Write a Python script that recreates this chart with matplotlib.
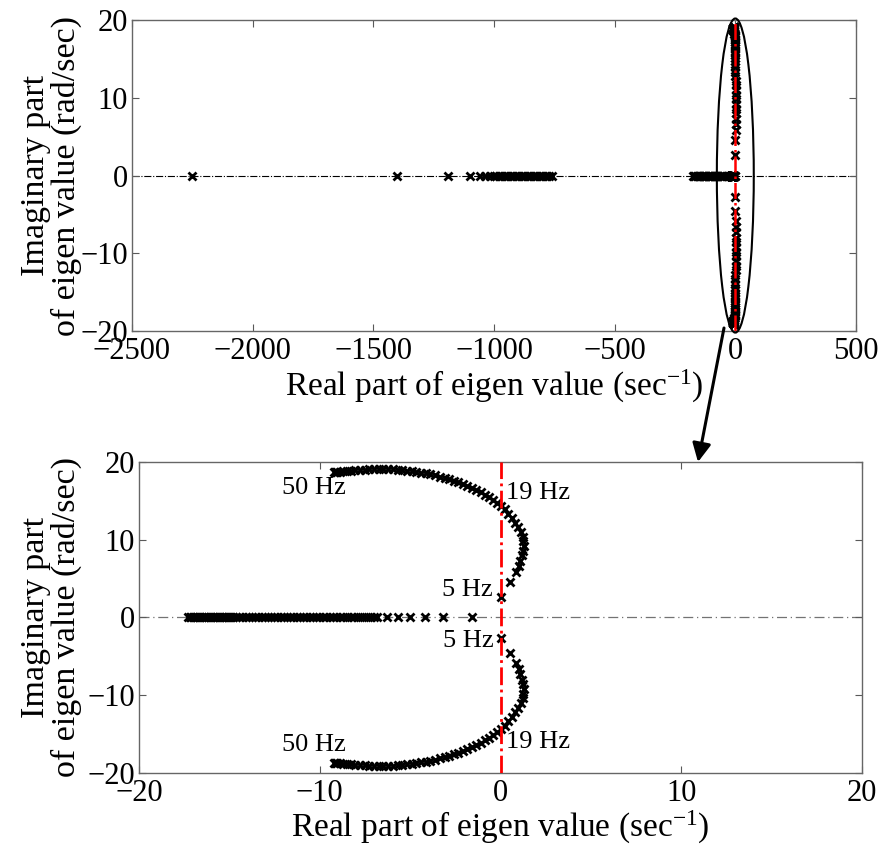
import matplotlib
matplotlib.use('Agg')
import matplotlib.pyplot as plt
from matplotlib.patches import Ellipse

plt.rcParams['font.family'] = ['Liberation Serif', 'DejaVu Serif']
plt.rcParams['mathtext.fontset'] = 'custom'
plt.rcParams['mathtext.rm'] = 'Liberation Serif'
plt.rcParams['mathtext.it'] = 'Liberation Serif:italic'

# ---------------- data ----------------
# far-left real eigenvalues (top plot only)
far_real = [-2250, -1400, -1190, -1100, -1057, -1037, -1016,
            -1000, -990, -980, -970, -960, -950, -940, -930, -920, -910,
            -900, -890, -880, -870, -860, -850, -840, -830, -820, -810,
            -800, -790, -780, -770, -760]
mid_real = [-175, -170, -165, -160, -155, -150, -145, -140, -135, -130,
            -125, -120, -115, -110, -105, -100, -95, -90, -85, -80,
            -75, -70, -65, -60, -55, -50, -45, -29]
# real eigenvalues near origin (zoomed plot)
near_real = [-17.30, -17.20, -17.10, -17.00, -16.90, -16.80, -16.70, -16.60,
             -16.50, -16.40, -16.30, -16.20, -16.10, -16.00, -15.90, -15.80,
             -15.70, -15.60, -15.50, -15.40, -15.30, -15.20, -15.10, -15.00,
             -14.90, -14.80, -14.62, -14.45, -14.28, -14.10, -13.92, -13.75,
             -13.57, -13.40, -13.22, -13.05, -12.87, -12.70, -12.52, -12.35,
             -12.17, -12.00, -11.82, -11.64, -11.46, -11.28, -11.10, -10.92,
             -10.74, -10.56, -10.38, -10.20, -10.02, -9.84, -9.65, -9.46,
             -9.27, -9.08, -8.89, -8.70, -8.50, -8.30, -8.10, -7.90,
             -7.68, -7.46, -7.23, -7.00, -6.85, -6.30, -5.67, -5.00,
             -4.18, -3.18, -1.60]
# complex branch, positive imaginary part (5 Hz -> 50 Hz)
upper_re = [0.00, 0.55, 0.85, 1.00, 1.10, 1.20, 1.25, 1.28, 1.27, 1.22,
            1.12, 0.98, 0.82, 0.63, 0.43, 0.22, 0.00, -0.20, -0.42, -0.64,
            -0.87, -1.10, -1.34, -1.58, -1.83, -2.08, -2.33, -2.58, -2.84,
            -3.10, -3.36, -3.62, -3.88, -4.14, -4.40, -4.66, -4.92, -5.18,
            -5.44, -5.70, -5.96, -6.22, -6.48, -6.74, -7.00, -7.26, -7.52,
            -7.78, -8.04, -8.28, -8.50, -8.70, -8.88, -9.02, -9.12, -9.18,
            -9.22]
upper_im = [2.70, 4.60, 5.80, 6.60, 7.30, 8.00, 8.60, 9.20, 9.80, 10.40,
            11.00, 11.60, 12.20, 12.80, 13.35, 13.90, 14.40, 14.78, 15.12,
            15.45, 15.78, 16.08, 16.37, 16.64, 16.90, 17.14, 17.37, 17.58,
            17.77, 17.95, 18.12, 18.27, 18.41, 18.53, 18.64, 18.74, 18.83,
            18.90, 18.96, 19.01, 19.04, 19.06, 19.07, 19.07, 19.06, 19.04,
            19.01, 18.97, 18.93, 18.88, 18.84, 18.80, 18.76, 18.73, 18.70,
            18.68, 18.66]
# complex branch, negative imaginary part (5 Hz -> 50 Hz)
lower_re = [0.00, 0.55, 0.85, 1.00, 1.10, 1.20, 1.25, 1.28, 1.27, 1.22,
            1.12, 0.98, 0.82, 0.63, 0.43, 0.22, 0.00, -0.20, -0.42, -0.64,
            -0.87, -1.10, -1.34, -1.58, -1.83, -2.08, -2.33, -2.58, -2.84,
            -3.10, -3.36, -3.62, -3.88, -4.14, -4.40, -4.66, -4.92, -5.18,
            -5.44, -5.70, -5.96, -6.22, -6.48, -6.74, -7.00, -7.26, -7.52,
            -7.78, -8.04, -8.28, -8.50, -8.70, -8.88, -9.02, -9.12, -9.18,
            -9.22]
lower_im = [-2.70, -4.60, -5.80, -6.60, -7.30, -8.00, -8.60, -9.20, -9.80,
            -10.40, -11.00, -11.60, -12.20, -12.80, -13.35, -13.90, -14.40,
            -14.78, -15.12, -15.45, -15.78, -16.08, -16.37, -16.64, -16.90,
            -17.14, -17.37, -17.58, -17.77, -17.95, -18.12, -18.27, -18.41,
            -18.53, -18.64, -18.74, -18.83, -18.90, -18.96, -19.01, -19.04,
            -19.06, -19.07, -19.07, -19.06, -19.04, -19.01, -18.97, -18.93,
            -18.88, -18.84, -18.80, -18.76, -18.73, -18.70, -18.68, -18.66]

top_xticks = [-2500, -2000, -1500, -1000, -500, 0, 500]
top_yticks = [-20, -10, 0, 10, 20]
bot_xticks = [-20, -10, 0, 10, 20]
bot_yticks = [-20, -10, 0, 10, 20]

labels_text = ['50 Hz', '19 Hz', '5 Hz', '5 Hz', '50 Hz', '19 Hz']
labels_x = [-12.1, 0.3, -0.45, -0.4, -12.1, 0.3]
labels_y = [16.7, 16.0, 3.5, -3.0, -16.4, -16.0]
labels_ha = ['left', 'left', 'right', 'right', 'left', 'left']

xlabel = r'Real part of eigen value (sec$^{-1}$)'
ylabel = 'Imaginary part\nof eigen value (rad/sec)'

# ---------------- figure ----------------
fig = plt.figure(figsize=(8.81, 8.46), dpi=100)
ax1 = fig.add_axes([0.1498, 0.6087, 0.8218, 0.3676])
ax2 = fig.add_axes([0.1578, 0.0863, 0.8207, 0.3676])

mk = dict(linestyle='none', marker='x', color='k', markersize=5.5,
          markeredgewidth=2.0, zorder=3)

def style(ax):
    ax.tick_params(direction='in', top=True, right=True, length=5,
                   width=0.8, colors='0.35', labelcolor='k',
                   labelsize=22)
    ax.tick_params(axis='x', pad=4)
    ax.tick_params(axis='y', pad=3)
    for s in ax.spines.values():
        s.set_color('0.4')
        s.set_linewidth(1.0)

# top plot
ax1.axhline(0, color='k', linestyle='-.', linewidth=0.8, zorder=1)
ax1.plot(far_real, [0] * len(far_real), **mk)
ax1.plot(mid_real, [0] * len(mid_real), **mk)
ax1.plot(near_real, [0] * len(near_real), **mk)
ax1.plot(upper_re, upper_im, **mk)
ax1.plot(lower_re, lower_im, **mk)
ax1.axvline(0, color='red', linestyle='-.', linewidth=1.8, zorder=4)
ax1.add_patch(Ellipse((0, 0), 153, 40.4, fill=False, edgecolor='k',
                      linewidth=1.5, clip_on=False, zorder=5))
ax1.set_xlim(-2500, 500)
ax1.set_ylim(-20, 20)
ax1.set_xticks(top_xticks)
ax1.set_yticks(top_yticks)
ax1.set_xlabel(xlabel, fontsize=24, labelpad=2)
ax1.set_ylabel(ylabel, fontsize=24.5, linespacing=1.0)
ax1.yaxis.set_label_coords(-0.069, 0.5)
style(ax1)

# bottom plot
ax2.axhline(0, color='0.45', linestyle=(0, (8, 3, 1, 3)), linewidth=0.9,
            zorder=1)
ax2.plot(near_real, [0] * len(near_real), **mk)
ax2.plot(upper_re, upper_im, **mk)
ax2.plot(lower_re, lower_im, **mk)
ax2.axvline(0, color='red', linestyle='-.', linewidth=2.0, zorder=4)
for t, x, y, ha in zip(labels_text, labels_x, labels_y, labels_ha):
    ax2.text(x, y, t, fontsize=19, ha=ha, va='center', zorder=6)
ax2.set_xlim(-20, 20)
ax2.set_ylim(-20, 20)
ax2.set_xticks(bot_xticks)
ax2.set_yticks(bot_yticks)
ax2.set_xlabel(xlabel, fontsize=24, labelpad=1)
ax2.set_ylabel(ylabel, fontsize=24.5, linespacing=1.0)
ax2.yaxis.set_label_coords(-0.079, 0.5)
style(ax2)

# zoom arrow
ax1.annotate('', xy=(698, 846 - 462), xycoords='figure pixels',
             xytext=(724, 846 - 328), textcoords='figure pixels',
             arrowprops=dict(arrowstyle='-|>', color='k', lw=2.2,
                             mutation_scale=28, shrinkA=0, shrinkB=0),
             annotation_clip=False)

fig.savefig('out.png', dpi=100)
